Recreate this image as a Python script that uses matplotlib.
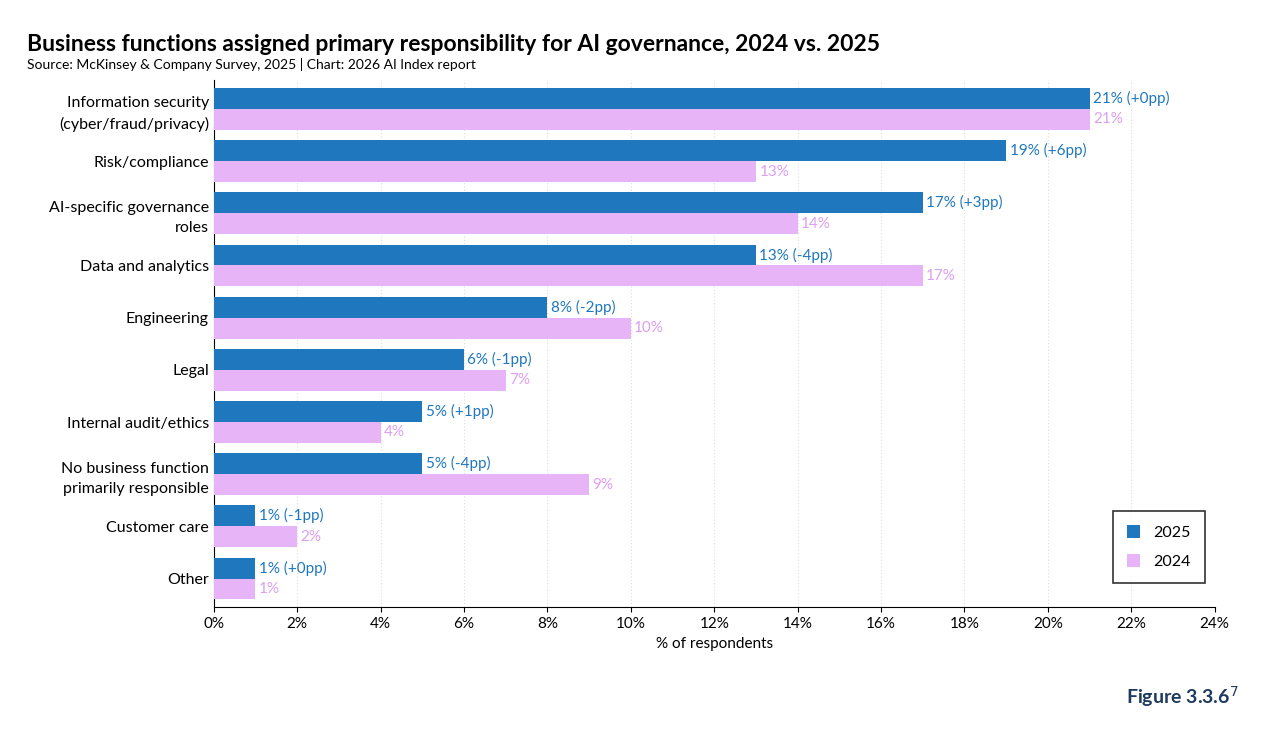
import numpy as np
import matplotlib
matplotlib.use("Agg")
import matplotlib.pyplot as plt

categories = ["Information security\n(cyber/fraud/privacy)", "Risk/compliance",
              "AI-specific governance\nroles", "Data and analytics", "Engineering",
              "Legal", "Internal audit/ethics", "No business function\nprimarily responsible",
              "Customer care", "Other"]
v2025 = [21, 19, 17, 13, 8, 6, 5, 5, 1, 1]
v2024 = [21, 13, 14, 17, 10, 7, 4, 9, 2, 1]

C25, C24 = "#1f77bd", "#e8b4f8"
plt.rcParams['font.family'] = ['Lato', 'DejaVu Sans']

fig = plt.figure(figsize=(12.8, 7.29), dpi=100)
ax = fig.add_axes([0.167, 0.167, 0.782, 0.723])
y = np.arange(len(categories))
h = 0.4
ax.barh(y - h/2, v2025, height=h, color=C25, label="2025", zorder=3)
ax.barh(y + h/2, v2024, height=h, color=C24, label="2024", zorder=3)
for i in range(len(categories)):
    d = v2025[i] - v2024[i]
    ax.text(v2025[i] + 0.08, y[i] - h/2, f"{v2025[i]}% ({d:+d}pp)".replace("+0", "+0"),
            va="center", ha="left", color=C25, fontsize=11)
    ax.text(v2024[i] + 0.08, y[i] + h/2, f"{v2024[i]}%", va="center", ha="left",
            color="#dd9ff0", fontsize=11)
ax.set_ylim(len(categories) - 0.5 + 0.05, -0.5 - 0.05)
ax.set_xlim(0, 24)
ax.set_xticks(range(0, 25, 2))
ax.set_xticklabels([f"{t}%" for t in range(0, 25, 2)], fontsize=11)
ax.set_yticks(y)
ax.set_yticklabels(categories, fontsize=11.5, linespacing=1.6)
ax.tick_params(axis="y", length=0)
ax.set_xlabel("% of respondents", fontsize=11)
ax.grid(axis="x", color="#dddddd", linestyle=(0, (1, 2)), linewidth=0.8, zorder=0)
for s in ["top", "right"]:
    ax.spines[s].set_visible(False)
leg = ax.legend(loc="lower right", bbox_to_anchor=(0.998, 0.03), fontsize=11.5,
                fancybox=False, edgecolor="black", handlelength=0.8, handleheight=0.8,
                borderpad=0.9, labelspacing=0.9)
leg.get_frame().set_linewidth(1.2)

fig.text(0.021, 0.925, "Business functions assigned primary responsibility for AI governance, 2024 vs. 2025",
         fontsize=16.5, fontweight="bold", va="bottom")
fig.text(0.021, 0.903, "Source: McKinsey & Company Survey, 2025 | Chart: 2026 AI Index report",
         fontsize=10, va="bottom")
fig.text(0.968, 0.035, "Figure 3.3.6$^7$", fontsize=14, fontweight="bold",
         color="#1d3a5f", ha="right")
fig.savefig("out.png", dpi=100, facecolor="white")
